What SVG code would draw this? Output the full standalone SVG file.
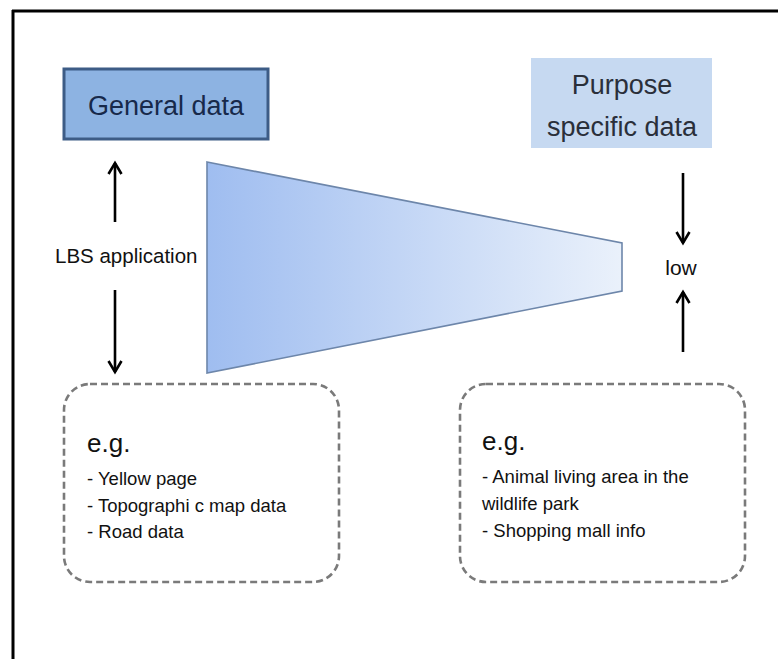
<svg xmlns="http://www.w3.org/2000/svg" width="778" height="659" viewBox="0 0 778 659">
  <defs>
    <linearGradient id="funnelFill" x1="0" y1="0" x2="1" y2="0">
      <stop offset="0" stop-color="#9fbdf0"/>
      <stop offset="1" stop-color="#eaf1fb"/>
    </linearGradient>
    <marker id="arrowHead" viewBox="0 0 16 16" refX="13" refY="8" markerWidth="16" markerHeight="16" markerUnits="userSpaceOnUse" orient="auto">
      <path d="M2,1.5 L13,8 L2,14.5" fill="none" stroke="#000" stroke-width="2.6" stroke-linejoin="miter"/>
    </marker>
  </defs>
  <style>
    .label { font-family: "Liberation Sans", Arial, sans-serif; }
    .title { font-size: 27px; text-anchor: middle; }
    .note { font-size: 18.5px; fill: #111; }
    .eg { font-size: 26px; fill: #111; }
    .arrow { stroke: #000; stroke-width: 2.6; fill: none; marker-end: url(#arrowHead); }
    .dashbox { fill: #fff; stroke: #7a7a7a; stroke-width: 2.6; stroke-dasharray: 7 4; }
  </style>

  <rect x="0" y="0" width="778" height="659" fill="#fff"/>

  <!-- frame -->
  <g id="frame" stroke="#000" stroke-width="3" fill="none">
    <line x1="12" y1="11" x2="778" y2="11"/>
    <line x1="13" y1="10" x2="13" y2="659"/>
  </g>

  <!-- funnel -->
  <g id="funnel">
    <polygon points="207,162 622,243 622,291 207,373" fill="url(#funnelFill)" stroke="#6d86aa" stroke-width="1.6"/>
  </g>

  <g id="general-data">
    <rect x="64" y="69" width="204" height="70" fill="#8db3e2" stroke="#3d5c86" stroke-width="3"/>
    <text class="label title" x="166" y="115" fill="#17294a">General data</text>
  </g>

  <g id="purpose-data">
    <rect x="531" y="58" width="181" height="90" fill="#c6d9f1"/>
    <text class="label title" x="622" y="94" fill="#2a2f3a">Purpose</text>
    <text class="label title" x="622" y="136" fill="#2a2f3a">specific data</text>
  </g>

  <g id="lbs-label">
    <text class="label" x="55" y="263" font-size="20.5" fill="#111">LBS application</text>
  </g>

  <g id="low-label">
    <text class="label" x="681" y="275" font-size="21" fill="#111" text-anchor="middle">low</text>
  </g>

  <g id="general-examples">
    <rect class="dashbox" x="64" y="384" width="275" height="198" rx="26" ry="26"/>
    <text class="label eg" x="87" y="452">e.g.</text>
    <text class="label note" x="87" y="485">- Yellow page</text>
    <text class="label note" x="87" y="512">- Topographi c map data</text>
    <text class="label note" x="87" y="538">- Road data</text>
  </g>

  <g id="specific-examples">
    <rect class="dashbox" x="460" y="384" width="285" height="198" rx="26" ry="26"/>
    <text class="label eg" x="482" y="450">e.g.</text>
    <text class="label note" x="482" y="483">- Animal living area in the</text>
    <text class="label note" x="482" y="510">wildlife park</text>
    <text class="label note" x="482" y="537">- Shopping mall info</text>
  </g>

  <!-- connectors -->
  <g id="connectors">
    <line class="arrow" x1="115" y1="222" x2="115" y2="163"/>
    <line class="arrow" x1="115" y1="290" x2="115" y2="372"/>
    <line class="arrow" x1="683" y1="173" x2="683" y2="243"/>
    <line class="arrow" x1="683" y1="352" x2="683" y2="292"/>
  </g>
</svg>
